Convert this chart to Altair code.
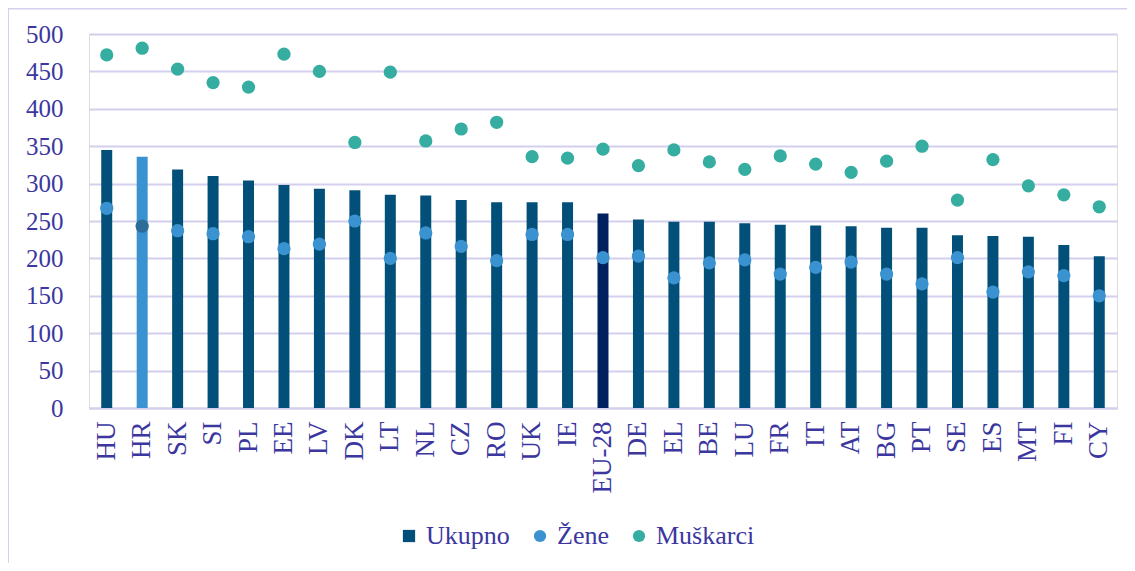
import altair as alt
import pandas as pd

countries = ["HU", "HR", "SK", "SI", "PL", "EE", "LV", "DK", "LT", "NL", "CZ", "RO", "UK", "IE",
             "EU-28", "DE", "EL", "BE", "LU", "FR", "IT", "AT", "BG", "PT", "SE", "ES", "MT", "FI", "CY"]
ukupno = [345, 336, 319, 310, 304, 298, 293, 291, 285, 284, 278, 275, 275, 275,
          260, 252, 249, 249, 247, 245, 244, 243, 241, 241, 231, 230, 229, 218, 203]
zene = [267, 243, 237, 233, 229, 213, 219, 250, 200, 234, 216, 197, 232, 232,
        201, 203, 174, 194, 198, 179, 188, 195, 179, 166, 201, 155, 182, 177, 150]
muskarci = [472, 481, 453, 435, 429, 473, 450, 355, 449, 357, 373, 382, 336, 334,
            346, 324, 345, 329, 319, 337, 326, 315, 330, 350, 278, 332, 297, 285, 269]
series_names = ["Ukupno", "Žene", "Muškarci"]
y_ticks = [0, 50, 100, 150, 200, 250, 300, 350, 400, 450, 500]

TEXT = "#3b379f"
GRID = "#d3cfec"
FONT = "Liberation Serif"

bar_df = pd.DataFrame({"country": countries, "value": ukupno})
pts_df = pd.concat([
    pd.DataFrame({"country": countries, "serie": "Žene", "value": zene}),
    pd.DataFrame({"country": countries, "serie": "Muškarci", "value": muskarci}),
])

x_axis = alt.Axis(labelAngle=-90, labelPadding=13, ticks=False, grid=False,
                  domain=True, domainColor=GRID, domainWidth=2, labelOverlap=False,
                  labelFont=FONT, labelFontSize=27, labelColor=TEXT)
y_axis = alt.Axis(values=y_ticks, grid=True, gridColor=GRID, gridWidth=2,
                  domain=False, ticks=False, labelPadding=26, labelOverlap=False,
                  labelFont=FONT, labelFontSize=25, labelColor=TEXT)
x_scale = alt.Scale(paddingInner=0.69, paddingOuter=0.345)
y_scale = alt.Scale(domain=[0, 500], nice=False)

def xe():
    return alt.X("country:N", sort=countries, title=None, scale=x_scale, axis=x_axis)

def ye():
    return alt.Y("value:Q", title=None, scale=y_scale, axis=y_axis)

bars = alt.Chart(bar_df).mark_bar().encode(
    x=xe(),
    y=ye(),
    color=alt.when(alt.datum.country == "HR").then(alt.value("#3a93d0"))
             .when(alt.datum.country == "EU-28").then(alt.value("#00205f"))
             .otherwise(alt.value("#02507a")),
)

leg = alt.Legend(title=None, orient="none", legendX=307, legendY=489, direction="horizontal",
                 labelFont=FONT, labelFontSize=26, labelColor=TEXT, symbolSize=150,
                 symbolStrokeWidth=0, columnPadding=17, labelOffset=4, padding=0, labelLimit=300)

points = alt.Chart(pts_df).mark_point(filled=True, size=175, opacity=1).encode(
    x=xe(),
    y=ye(),
    color=alt.when((alt.datum.country == "HR") & (alt.datum.serie == "Žene"))
              .then(alt.value("#2c6c98"))
              .otherwise(alt.Color("serie:N",
                                   scale=alt.Scale(domain=series_names,
                                                   range=["#02507a", "#3a93d0", "#35ada0"]),
                                   legend=leg)),
    shape=alt.Shape("serie:N",
                    scale=alt.Scale(domain=series_names, range=["square", "circle", "circle"]),
                    legend=leg),
)

frame_df = pd.DataFrame({"k": [0]})
left_frame = alt.Chart(frame_df).mark_rule(color=GRID, strokeWidth=2).encode(
    x=alt.value(-81), y=alt.value(-26), y2=alt.value(560))
top_frame = alt.Chart(frame_df).mark_rule(color=GRID, strokeWidth=2).encode(
    x=alt.value(-81), x2=alt.value(1100), y=alt.value(-25.5))

chart = alt.layer(bars, points, left_frame, top_frame).properties(
    width=1028, height=374,
    autosize=alt.AutoSizeParams(type="none"),
    padding={"left": 81, "top": 26, "right": 10, "bottom": 155},
).configure_view(strokeWidth=0).configure_axis(
    labelOverlap=False, labelFont=FONT
).configure_legend(labelFont=FONT).configure(font=FONT)

chart.save("out.html", embed_options={"renderer": "svg", "actions": False})
